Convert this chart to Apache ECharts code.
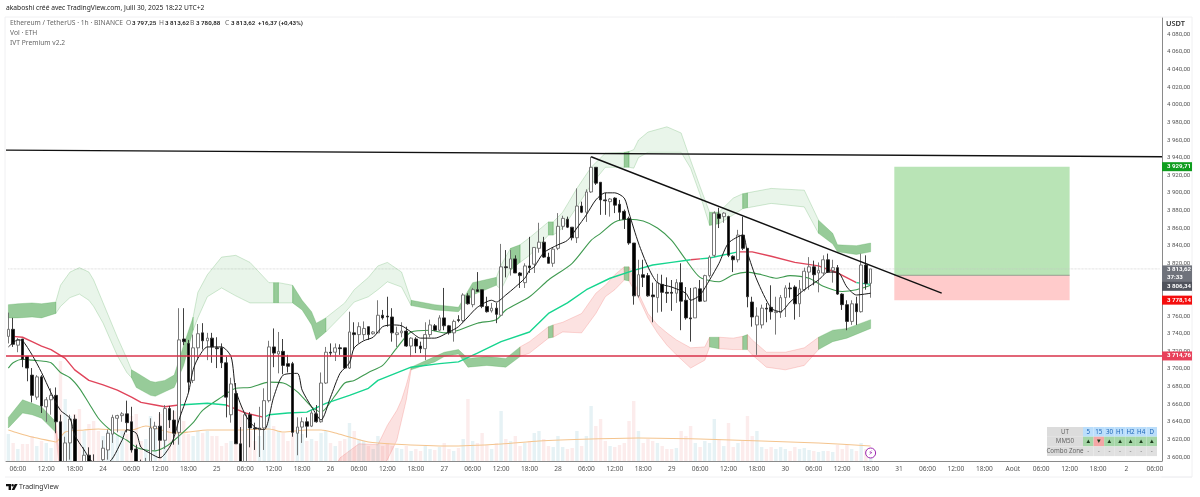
<!DOCTYPE html>
<html><head><meta charset="utf-8">
<style>html,body{margin:0;padding:0;background:#fff}#c{width:1200px;height:497px}</style>
<script src="https://cdn.jsdelivr.net/npm/echarts@6/dist/echarts.min.js"></script>
</head><body><div id="c"></div>
<script>
const open_=[3737,3745,3727,3734,3714,3693,3668,3691,3657,3665,3670,3640,3594,3616,3643,3591,3591,3602,3594,3585,3597,3608,3626,3644,3647,3649,3640,3609,3593,3580,3593,3632,3635,3619,3655,3642,3628,3734,3729,3687,3724,3741,3732,3735,3724,3724,3707,3648,3672,3615,3594,3648,3633,3631,3633,3664,3725,3717,3720,3706,3706,3627,3634,3640,3635,3649,3640,3684,3719,3719,3724,3724,3701,3741,3739,3739,3748,3740,3741,3761,3760,3759,3739,3741,3743,3726,3734,3726,3723,3739,3749,3744,3758,3749,3741,3756,3755,3783,3773,3790,3790,3771,3766,3769,3761,3816,3814,3825,3809,3798,3817,3819,3837,3844,3827,3820,3837,3862,3870,3861,3849,3885,3878,3901,3929,3912,3892,3890,3894,3887,3879,3871,3843,3783,3807,3806,3784,3781,3796,3787,3787,3786,3798,3778,3758,3758,3791,3777,3806,3829,3876,3873,3873,3828,3824,3852,3837,3776,3750,3750,3769,3770,3764,3764,3781,3792,3793,3774,3790,3810,3816,3809,3809,3824,3812,3815,3785,3773,3754,3774,3765,3818,3797.25];
const high_=[3764,3758,3735,3734,3714,3701,3693,3693,3668,3678,3679,3648,3623,3648,3648,3594,3611,3611,3603,3594,3619,3631,3648,3648,3651,3664,3657,3614,3597,3599,3644,3640,3651,3659,3658,3653,3769,3769,3733,3739,3751,3752,3741,3741,3736,3729,3714,3690,3684,3634,3651,3651,3639,3657,3678,3732,3746,3742,3734,3716,3708,3645,3645,3645,3653,3659,3696,3725,3729,3729,3728,3724,3765,3753,3753,3754,3748,3743,3778,3767,3782,3769,3748,3753,3748,3736,3736,3731,3753,3756,3751,3761,3792,3750,3756,3761,3786,3786,3792,3810,3790,3782,3775,3775,3842,3835,3835,3829,3810,3820,3850,3838,3866,3850,3832,3838,3877,3874,3873,3861,3905,3890,3904,3941,3929,3912,3900,3894,3895,3892,3881,3873,3843,3824,3824,3809,3798,3808,3807,3804,3801,3802,3820,3793,3792,3793,3801,3807,3829,3879,3883,3878,3874,3829,3858,3873,3837,3782,3770,3773,3775,3795,3782,3784,3795,3798,3795,3801,3815,3827,3823,3821,3829,3831,3824,3818,3786,3778,3778,3782,3831,3829,3813.62];
const low_=[3729,3725,3719,3702,3686,3662,3665,3650,3640,3648,3627,3574,3580,3597,3574,3578,3574,3580,3580,3578,3585,3597,3616,3628,3640,3628,3605,3585,3576,3574,3585,3608,3599,3609,3633,3614,3614,3727,3673,3684,3710,3722,3710,3707,3701,3701,3645,3639,3615,3580,3585,3611,3608,3600,3608,3662,3702,3695,3694,3696,3623,3602,3616,3622,3634,3639,3639,3683,3714,3709,3716,3700,3700,3722,3729,3733,3733,3739,3741,3756,3748,3731,3725,3736,3725,3714,3718,3718,3710,3736,3743,3743,3744,3739,3731,3753,3753,3773,3770,3788,3769,3764,3764,3752,3761,3804,3806,3809,3792,3792,3809,3809,3832,3826,3820,3816,3835,3858,3860,3846,3843,3877,3867,3900,3909,3875,3875,3873,3877,3869,3859,3841,3773,3781,3793,3782,3753,3764,3765,3775,3766,3775,3744,3756,3731,3758,3776,3776,3804,3827,3860,3866,3827,3810,3821,3835,3770,3748,3716,3746,3753,3756,3739,3758,3759,3781,3756,3759,3788,3790,3795,3787,3807,3809,3798,3784,3767,3744,3750,3750,3764,3790,3780.88];
const close_=[3745,3728,3733,3711,3701,3670,3691,3658,3665,3670,3640,3585,3616,3643,3585,3580,3602,3585,3585,3580,3610,3627,3645,3647,3649,3639,3608,3593,3580,3594,3633,3635,3619,3655,3642,3627,3733,3731,3685,3724,3740,3732,3735,3725,3723,3707,3668,3683,3615,3594,3648,3633,3632,3633,3664,3725,3718,3720,3704,3703,3628,3634,3640,3635,3650,3640,3684,3719,3718,3724,3723,3701,3742,3739,3748,3746,3739,3742,3761,3758,3759,3741,3741,3743,3726,3735,3726,3723,3739,3750,3744,3758,3749,3741,3754,3755,3784,3774,3790,3788,3771,3765,3769,3762,3816,3815,3825,3809,3806,3817,3815,3838,3844,3827,3820,3836,3862,3871,3861,3849,3885,3878,3901,3929,3911,3892,3891,3893,3886,3878,3870,3843,3783,3807,3804,3783,3782,3798,3787,3786,3786,3798,3777,3758,3757,3792,3777,3806,3827,3877,3871,3877,3829,3824,3852,3837,3782,3759,3760,3769,3768,3765,3765,3781,3792,3791,3774,3791,3811,3816,3807,3812,3824,3810,3815,3785,3773,3754,3774,3765,3818,3797,3813.62];
const volume=[27,18,12,17,17,25,15,20,18,13,30,100,62,45,47,52,30,37,40,30,25,30,30,25,30,27,45,47,20,22,45,35,47,45,40,50,85,40,27,25,30,28,30,25,25,15,18,20,35,55,45,30,20,25,30,45,35,30,28,20,45,30,27,20,22,20,28,30,18,15,20,22,38,30,22,20,15,12,25,15,18,15,13,12,15,10,12,10,15,12,11,14,18,12,10,13,22,62,20,18,28,16,12,18,50,22,20,25,15,18,20,28,30,22,15,14,25,14,12,13,30,15,25,55,35,42,20,15,14,16,18,40,60,30,18,22,20,18,15,12,12,13,30,25,35,18,14,20,18,42,22,15,38,14,18,20,45,25,30,14,12,14,12,14,12,10,14,12,13,11,10,9,10,10,9,16,12,16,12,10,18,12,6];
const volumeAvg=[[0,31],[2,28],[5,24],[9,20],[10,19],[12,29],[16,31],[19,32],[23,31],[26,31],[29,35],[35,28],[38,29],[42,31],[48,31],[55,32],[58,29],[63,31],[66,31],[69,28],[72,24],[76,19],[81,17],[93,15],[104,17],[112,20],[123,22],[133,23],[146,22],[159,20],[171,18],[182,15]];
const fastLine=[[0,3725],[2,3733],[3,3732],[5,3716],[7,3696],[9,3673],[11,3653],[13,3644],[14,3625],[16,3608],[18,3594],[21,3594],[24,3619],[25,3631],[27,3627],[28,3611],[30,3604],[32,3599],[34,3611],[35,3623],[36,3642],[38,3673],[39,3699],[40,3712],[42,3725],[45,3725],[47,3714],[48,3676],[50,3648],[52,3634],[54,3631],[56,3668],[58,3693],[61,3695],[62,3676],[64,3657],[66,3642],[68,3668],[70,3695],[72,3707],[73,3724],[75,3732],[77,3736],[79,3748],[81,3750],[83,3749],[85,3742],[87,3735],[90,3735],[93,3742],[95,3748],[97,3759],[99,3770],[102,3778],[103,3776],[105,3784],[107,3793],[109,3803],[110,3812],[111,3816],[113,3832],[116,3841],[118,3846],[120,3860],[122,3875],[124,3892],[126,3900],[128,3900],[130,3894],[131,3877],[133,3843],[135,3816],[137,3798],[140,3793],[143,3786],[144,3778],[146,3784],[148,3801],[150,3820],[152,3843],[155,3852],[156,3832],[158,3801],[161,3769],[163,3765],[165,3776],[168,3790],[171,3801],[173,3810],[175,3810],[177,3793],[179,3784],[182,3786]];
const midLine=[[0,3701],[1,3707],[3,3711],[5,3710],[7,3709],[9,3707],[11,3696],[13,3690],[15,3678],[17,3661],[19,3644],[21,3633],[23,3625],[25,3619],[27,3611],[29,3608],[31,3607],[33,3611],[35,3619],[39,3639],[41,3653],[45,3668],[48,3678],[51,3679],[55,3685],[58,3684],[61,3674],[64,3657],[66,3651],[69,3670],[71,3684],[73,3687],[76,3696],[79,3704],[82,3724],[85,3742],[89,3744],[92,3741],[95,3744],[99,3752],[103,3756],[105,3767],[110,3782],[114,3801],[119,3820],[123,3846],[125,3854],[128,3867],[131,3870],[134,3868],[137,3860],[140,3846],[143,3824],[146,3804],[150,3799],[153,3807],[156,3810],[159,3807],[162,3803],[165,3806],[169,3803],[172,3794],[176,3788],[179,3790],[182,3795]];
const trendLine=[[1,3737],[3,3736],[5,3731],[7,3726],[9,3722],[12,3712],[14,3699],[17,3687],[20,3682],[23,3676],[26,3668],[28,3662],[31,3659],[33,3657],[36,3659],[42,3661],[46,3659],[50,3650],[54,3645],[55,3648],[59,3650],[63,3651],[67,3661],[72,3670],[76,3678],[78,3687],[85,3702],[91,3706],[95,3708],[99,3718],[104,3731],[110,3742],[114,3763],[118,3775],[122,3790],[127,3803],[132,3812],[136,3818],[140,3821],[144,3824],[146,3825],[148,3826],[154,3833],[157,3833],[161,3828],[166,3821],[171,3817],[175,3809],[179,3798],[182,3796]];
const trendParts=[[1,36,'#e0455b'],[36,46,'#16d58f'],[46,54,'#e0455b'],[54,144,'#16d58f'],[144,146,'#e0455b'],[146,154,'#16d58f'],[154,179,'#e0455b'],[179,182,'#16d58f']];
const upperBand=[[0,3773,3758],[2,3774,3758],[5,3775,3759],[7,3774,3758],[10,3776,3763],[11,3795,3771],[13,3810,3781],[15,3815,3785],[17,3810,3778],[18,3801,3771],[20,3775,3752],[23,3736,3715],[25,3712,3696],[26,3699,3690],[27,3696,3679],[30,3686,3670],[31,3685,3669],[33,3687,3674],[35,3693,3679],[37,3727,3704],[39,3759,3744],[40,3787,3758],[42,3807,3782],[45,3827,3792],[48,3829,3783],[51,3821,3775],[55,3798,3775],[56,3798,3775],[57,3798,3775],[59,3796,3775],[60,3795,3775],[62,3778,3767],[64,3765,3750],[65,3752,3733],[67,3758,3742],[71,3775,3764],[73,3790,3776],[76,3804,3782],[78,3817,3790],[80,3821,3799],[83,3810,3793],[85,3778,3772],[90,3773,3767],[95,3770,3765],[98,3798,3784],[103,3804,3795],[104,3818,3790],[106,3837,3812],[108,3841,3821],[110,3849,3829],[114,3867,3852],[115,3867,3852],[117,3878,3860],[120,3905,3884],[123,3929,3909],[126,3945,3929],[130,3946,3929],[131,3947,3929],[132,3949,3928],[133,3960,3940],[135,3969,3946],[139,3975,3946],[142,3968,3946],[144,3937,3928],[146,3907,3898],[148,3878,3863],[150,3878,3865],[153,3894,3875],[155,3899,3882],[156,3900,3883],[161,3905,3888],[168,3903,3884],[171,3869,3854],[174,3854,3842],[175,3841,3833],[179,3840,3830],[182,3843,3833]];
const upperParts=[[0,10,'strong'],[10,26,'pale'],[26,39,'strong'],[39,56,'pale'],[56,57,'strong'],[57,60,'pale'],[60,67,'strong'],[67,85,'pale'],[85,103,'strong'],[103,106,'pale'],[106,108,'strong'],[108,114,'pale'],[114,115,'strong'],[115,130,'pale'],[130,131,'strong'],[131,148,'pale'],[148,150,'strong'],[150,155,'pale'],[155,156,'strong'],[156,171,'pale'],[171,182,'strong']];
const lowerBand=[[0,3645,3633],[3,3665,3650],[5,3661,3648],[7,3657,3644],[10,3640,3628],[11,3591,3574],[12,3563,3551],[68,3579,3562],[70,3599,3579],[74,3615,3585],[78,3614,3585],[80,3636,3597],[82,3653,3619],[83,3665,3642],[84,3682,3665],[85,3702,3699],[90,3714,3708],[92,3719,3714],[95,3722,3717],[97,3712,3702],[101,3714,3704],[105,3712,3702],[108,3725,3714],[110,3731,3718],[114,3748,3735],[115,3750,3736],[117,3753,3742],[121,3763,3741],[124,3786,3763],[126,3795,3782],[128,3807,3790],[130,3816,3801],[131,3816,3800],[132,3801,3790],[133,3786,3781],[135,3763,3758],[137,3750,3741],[139,3741,3727],[141,3733,3716],[144,3724,3701],[147,3725,3710],[148,3736,3725],[150,3736,3723],[153,3735,3722],[155,3737,3722],[156,3739,3722],[157,3733,3716],[160,3719,3702],[164,3719,3699],[168,3724,3704],[171,3736,3722],[174,3744,3731],[177,3746,3735],[182,3756,3746]];
const lowerParts=[[0,10,'strong'],[10,12,'soft'],[68,85,'soft'],[85,108,'strong'],[108,114,'soft'],[114,115,'strong'],[115,130,'soft'],[130,131,'strong'],[131,148,'soft'],[148,150,'strong'],[150,155,'soft'],[155,156,'strong'],[156,171,'soft'],[171,182,'strong']];
const resistance=[[0,3948.5],[243,3941]];
const downTrend=[[123,3941],[197,3786]];
const supportLevel=3714.76, lastPrice=3813.62;
const targetLevel=3929.71, entryLevel=3806.34, stopLevel=3778.14;
const positionSpan=[187,224];
const priceTicks=[];for(let p=3600;p<=4080;p+=20)priceTicks.push(p);
const dayNames=['24','25','26','27','28','29','30','31','Août','2'];
const tableCols=['5','15','30','H1','H2','H4','D'];
const tableMM50=['▲','▼','▲','▲','▲','▲','▲'];
const N=244, priceMin=3595.46, priceMax=4098.56;

const cats=[],tickLabels=[];let dayIdx=0;
for(let i=0;i<N;i++){const h=(4+i)%24;cats.push('h'+i);
  if(h===0){tickLabels.push(dayNames[dayIdx++]||'');}
  else if(h%6===0){tickLabels.push((h<10?'0':'')+h+':00');}
  else tickLabels.push('');}
const fmt=v=>{const s=v.toFixed(2).replace('.',',');return s.slice(0,1)+' '+s.slice(1);};
const FONT='"Noto Sans",sans-serif', NUM='Roboto,sans-serif';
const fills={strong:{fill:'rgba(76,165,80,.58)',stroke:'rgba(76,165,80,.4)'},pale:{fill:'rgba(76,175,80,.12)',stroke:'rgba(76,165,80,.35)'},soft:{fill:'rgba(239,83,80,.17)',stroke:'rgba(239,83,80,.32)'}};
function bandSeries(band,parts,z){return {type:'custom',z,clip:true,silent:true,data:parts.map(p=>[p[0],p[1]]),encode:{x:0},
 renderItem(params,api){const p=parts[params.dataIndex];const r=band.filter(b=>b[0]>=p[0]&&b[0]<=p[1]);
  const pts=r.map(b=>api.coord([b[0],b[1]])).concat(r.slice().reverse().map(b=>api.coord([b[0],b[2]])));
  const f=fills[p[2]];return {type:'polygon',shape:{points:pts},style:{fill:f.fill,stroke:f.stroke,lineWidth:.7}};}};}
function lineS(data,color,w,z,smooth,type){return {type:'line',data,symbol:'none',z,smooth:smooth?0.25:false,silent:true,lineStyle:{color,width:w,type:type||'solid'},clip:true};}
function levelS(pts,color,w){return {type:'custom',z:8,clip:false,silent:true,data:[[pts[0][0],pts[0][1]]],encode:{x:0,y:1},renderItem(p,api){
   const a=api.coord(pts[0]),b=api.coord(pts[1]),s=(b[1]-a[1])/(b[0]-a[0]);
   return {type:'line',shape:{x1:6,y1:a[1]-(a[0]-6)*s,x2:1162,y2:b[1]+(1162-b[0])*s},style:{stroke:color,lineWidth:w}};}};}
const tags=[[targetLevel,fmt(targetLevel),'#0f9d1e',0,9],[lastPrice,fmt(lastPrice)+'\n37:33','#6f727b',5,17],[entryLevel,fmt(entryLevel),'#50535c',11,9],[stopLevel,fmt(stopLevel),'#f40d0d',0,9],[supportLevel,fmt(supportLevel),'#e8405a',0,9]];
const series=[
 {type:'bar',yAxisIndex:1,barWidth:3.4,z:1,silent:true,data:volume.map((v,i)=>({value:v,itemStyle:{color:close_[i]>=open_[i]?'#e6f2f5':'#fcecec'}}))},
 {type:'custom',z:2,clip:true,silent:true,data:[[positionSpan[0],positionSpan[1]]],encode:{x:[0,1]},renderItem(p,api){
   const a=api.coord([positionSpan[0],targetLevel]),b=api.coord([positionSpan[1],entryLevel]),c=api.coord([positionSpan[1],stopLevel]);
   return {type:'group',children:[
    {type:'rect',shape:{x:a[0],y:a[1],width:b[0]-a[0],height:b[1]-a[1]},style:{fill:'#b9e4b6'}},
    {type:'rect',shape:{x:a[0],y:b[1],width:b[0]-a[0],height:c[1]-b[1]},style:{fill:'#ffcbcb'}},
    {type:'line',shape:{x1:a[0],y1:b[1],x2:b[0],y2:b[1]},style:{stroke:'#7f8f7f',lineWidth:.8}}]};}},
 bandSeries(upperBand,upperParts,3),bandSeries(lowerBand,lowerParts,3),
 {...lineS(volumeAvg,'#f4c48e',1.1,4,true),yAxisIndex:1},
 lineS(midLine,'#3f9a50',1.1,5,true),
 ...trendParts.map(t=>lineS(trendLine.filter(d=>d[0]>=t[0]&&d[0]<=t[1]),t[2],1.4,5,false)),
 {type:'candlestick',z:6,silent:true,barWidth:3.2,data:open_.map((o,i)=>[o,close_[i],low_[i],high_[i]]),
  itemStyle:{color:'#ffffff',color0:'#000000',borderColor:'#6a6a6a',borderColor0:'#2a2a2a',borderWidth:.9}},
 lineS(fastLine,'#1a1a1a',1,7,true),
 lineS([[0,lastPrice],[243,lastPrice]],'#c4c4c4',.7,2,false,'dotted'),
 levelS(resistance,'#111',1.4),
 lineS(downTrend,'#111',1.4,8,false),
 levelS([[0,supportLevel],[243,supportLevel]],'#d9324a',1.6),
 {type:'custom',z:20,clip:false,silent:true,data:[[182]],encode:{x:0},renderItem(p,api){
   const c=api.coord([182,3600]);
   return {type:'group',children:[{type:'circle',shape:{cx:c[0],cy:c[1]-4,r:5},style:{fill:'#fff',stroke:'#9c27b0',lineWidth:1}},
    {type:'text',style:{text:'⚡',x:c[0],y:c[1]-4,fill:'#9c27b0',font:'7px "DejaVu Sans"',align:'center',verticalAlign:'middle'}}]};}},
 {type:'custom',z:30,clip:false,silent:true,data:tags.map(t=>[243,t[0]]),encode:{x:0,y:1},renderItem(p,api){
   const t=tags[p.dataIndex],c=api.coord([243,t[0]]);const y=c[1]+t[3];
   return {type:'group',children:[{type:'rect',shape:{x:1162,y:y-t[4]/2,width:30,height:t[4]},style:{fill:t[2]}},
    {type:'text',style:{text:t[1],x:1167,y:y,fill:'#fff',font:'bold 6.1px '+NUM,verticalAlign:'middle',lineHeight:8}}]};}}
];
const rowY=[427,436.7,446.4],rowH=9.7,lblW=36,cw=(110-lblW)/7,tx=1047,gfx=[];
[['UT','#bbdefb'],['MM50','#a5d6a7'],['Combo Zone','#e0e0e0']].forEach((r,k)=>{
 gfx.push({type:'rect',shape:{x:tx,y:rowY[k],width:lblW,height:rowH},style:{fill:'#dcdcdc'},z:40});
 gfx.push({type:'text',style:{text:r[0],x:tx+lblW/2,y:rowY[k]+rowH/2,fill:'#666',font:'6.2px '+FONT,align:'center',verticalAlign:'middle'},z:41});
 tableCols.forEach((c,j)=>{const x=tx+lblW+j*cw;const dn=k===1&&tableMM50[j]==='▼';
  gfx.push({type:'rect',shape:{x,y:rowY[k],width:cw,height:rowH},style:{fill:dn?'#f4a6a6':r[1]},z:40});
  gfx.push({type:'text',style:{text:k===0?c:k===1?tableMM50[j]:'-',x:x+cw/2,y:rowY[k]+rowH/2,fill:k===0?'#1e66b8':k===1?'#1b3a1b':'#777',font:'6.2px '+FONT,align:'center',verticalAlign:'middle'},z:41});});});
const T=(text,x,y,o={})=>({type:'text',z:50,style:{text,x,y,fill:o.fill||'#666',font:(o.w||'')+' '+(o.s||6.7)+'px '+(o.f||FONT),verticalAlign:'middle'}});
const V=(text,x)=>T(text,x,23,{w:'600',fill:'#222',s:6.2,f:NUM});
gfx.push(
 {type:'rect',z:-1,shape:{x:5,y:17,width:1187,height:460},style:{fill:'#fff',stroke:'#f0f0f2',lineWidth:1}},
 {type:'rect',z:30,shape:{x:1,y:461.6,width:1160.5,height:21.4},style:{fill:'#fff'}},
 {type:'line',z:31,shape:{x1:5,y1:477,x2:1192,y2:477},style:{stroke:'#f0f0f2',lineWidth:1}},
 T('akaboshi créé avec TradingView.com, Juill 30, 2025 18:22 UTC+2',6,8,{fill:'#222'}),
 T('Ethereum / TetherUS · 1h · BINANCE',10,23),
 T('O',126,23),V('3 797,25',132),
 T('H',159,23),V('3 813,62',165),
 T('B',190,23),V('3 780,88',196),
 T('C',225,23),V('3 813,62',231),
 V('+16,37 (+0,43%)',258),
 T('Vol · ETH',10,33),T('IVT Premium v2.2',10,43),
 T('USDT',1166,24,{s:7.4,w:'600',fill:'#333'}),
 T('TradingView',19,487,{s:6.9,fill:'#333'}),
 {type:'polygon',z:50,shape:{points:[[6,484],[11,484],[11,490],[8.6,490],[8.6,486.2],[6,486.2]]},style:{fill:'#111'}},
 {type:'circle',z:50,shape:{cx:12.6,cy:485.3,r:1.3},style:{fill:'#111'}},
 {type:'polygon',z:50,shape:{points:[[14.8,484],[17.6,484],[14.4,490],[11.6,490]]},style:{fill:'#111'}}
);
const chart=echarts.init(document.getElementById('c'),null,{renderer:'canvas'});
chart.setOption({animation:false,backgroundColor:'#fff',
 grid:{left:6,right:38,top:18,bottom:36,show:false},
 xAxis:{type:'category',z:50,data:cats,boundaryGap:true,axisTick:{show:false},axisLine:{lineStyle:{color:'#8a8a8a',width:1}},
  axisLabel:{interval:(i)=>tickLabels[i]!=='',formatter:(v,i)=>tickLabels[i],color:'#555',fontSize:6.6,fontFamily:FONT,margin:5,hideOverlap:false},splitLine:{show:false}},
 yAxis:[{type:'value',position:'right',min:priceMin,max:priceMax,scale:true,axisLine:{show:true,lineStyle:{color:'#8a8a8a'}},axisTick:{show:false},splitLine:{show:false},
   axisLabel:{customValues:priceTicks,formatter:v=>fmt(v),color:'#555',fontSize:6.1,fontFamily:NUM,margin:5,showMinLabel:true,showMaxLabel:true}},
  {type:'value',min:0,max:443,show:false,splitLine:{show:false}}],
 graphic:gfx,series});
</script></body></html>
